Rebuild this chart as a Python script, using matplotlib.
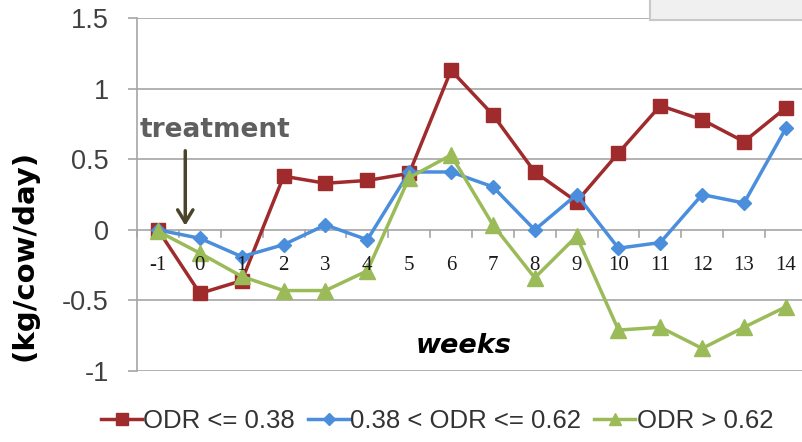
import matplotlib
matplotlib.use("Agg")
import matplotlib.pyplot as plt
from matplotlib.patches import Rectangle

weeks = [-1, 0, 1, 2, 3, 4, 5, 6, 7, 8, 9, 10, 11, 12, 13, 14]
odr_low = [0.0, -0.45, -0.36, 0.38, 0.33, 0.35, 0.40, 1.13, 0.815, 0.41, 0.20, 0.545, 0.88, 0.78, 0.625, 0.865]
odr_mid = [0.0, -0.06, -0.19, -0.105, 0.035, -0.07, 0.41, 0.41, 0.305, 0.0, 0.25, -0.13, -0.09, 0.25, 0.19, 0.72]
odr_high = [-0.01, -0.165, -0.33, -0.43, -0.43, -0.29, 0.37, 0.53, 0.035, -0.34, -0.045, -0.71, -0.69, -0.84, -0.69, -0.545]
labels = ["ODR <= 0.38", "0.38 < ODR <= 0.62", "ODR > 0.62"]
yticks = [-1, -0.5, 0, 0.5, 1, 1.5]
ytick_labels = ["-1", "-0.5", "0", "0.5", "1", "1.5"]

red = "#A02B2D"
blue = "#4A8EDC"
green = "#9BBB59"
grid_c = "#A6A6A6"

fig = plt.figure(figsize=(8.02, 4.42), dpi=100)
ax = fig.add_axes([0.171, 0.1606, 0.835, 0.7984])

ax.set_xlim(-1.5, 14.5)
ax.set_ylim(-1, 1.5)

for v in yticks:
    ax.axhline(v, color=grid_c, lw=1.2, zorder=1)

ax.plot(weeks, odr_low, color=red, lw=2.5, marker="s", ms=10, label=labels[0], zorder=3)
ax.plot(weeks, odr_mid, color=blue, lw=2.5, marker="D", ms=7, label=labels[1], zorder=4)
ax.plot(weeks, odr_high, color=green, lw=2.5, marker="^", ms=11, label=labels[2], zorder=5)

for s in ["top", "right", "bottom"]:
    ax.spines[s].set_visible(False)
ax.spines["left"].set_color(grid_c)
ax.spines["left"].set_linewidth(1.2)

ax.set_yticks(yticks)
ax.set_yticklabels(ytick_labels, fontsize=19.5, color="#404040", family="Liberation Sans")
ax.tick_params(axis="y", length=6.5, color=grid_c, width=1.2, pad=14)
ax.set_xticks([])

# category axis at zero
for i in range(len(weeks) + 1):
    xb = -1.5 + i
    ax.plot([xb, xb], [0, -0.05], color=grid_c, lw=1.2, zorder=1, clip_on=False)
for w in weeks:
    ax.text(w, -0.25, str(w), ha="center", va="center", fontsize=15,
            family="Liberation Serif", color="#1a1a1a", zorder=6)

ax.text(0.35, 0.705, "treatment", ha="center", va="center", fontsize=19, fontweight="bold",
        color="#5F5F5F", family="DejaVu Sans")
ax.annotate("", xy=(-0.35, 0.01), xytext=(-0.35, 0.58),
            arrowprops=dict(arrowstyle="->,head_length=0.9,head_width=0.55", color="#4A4529", lw=2.5))

ax.text(6.3, -0.82, "weeks", ha="center", va="center", fontsize=19.5, fontweight="bold",
        style="italic", color="black", family="DejaVu Sans")

fig.text(0.031, 0.423, "(kg/cow/day)", rotation=90, ha="center", va="center",
         fontsize=21, fontweight="bold", color="black", family="DejaVu Sans")

leg = fig.legend(loc="center", bbox_to_anchor=(0.545, 0.048), ncol=3, frameon=False,
                 prop={"family": "Liberation Sans", "size": 18.5}, handlelength=1.6,
                 handletextpad=0.05, columnspacing=0.5, labelcolor="#333333",
                 markerscale=0.85)

fig.patches.append(Rectangle((0.81, 0.955), 0.2, 0.06, transform=fig.transFigure,
                             facecolor="#F0F0F0", edgecolor="#C8C8C8", lw=1.5))

fig.savefig("out.png", dpi=100)
